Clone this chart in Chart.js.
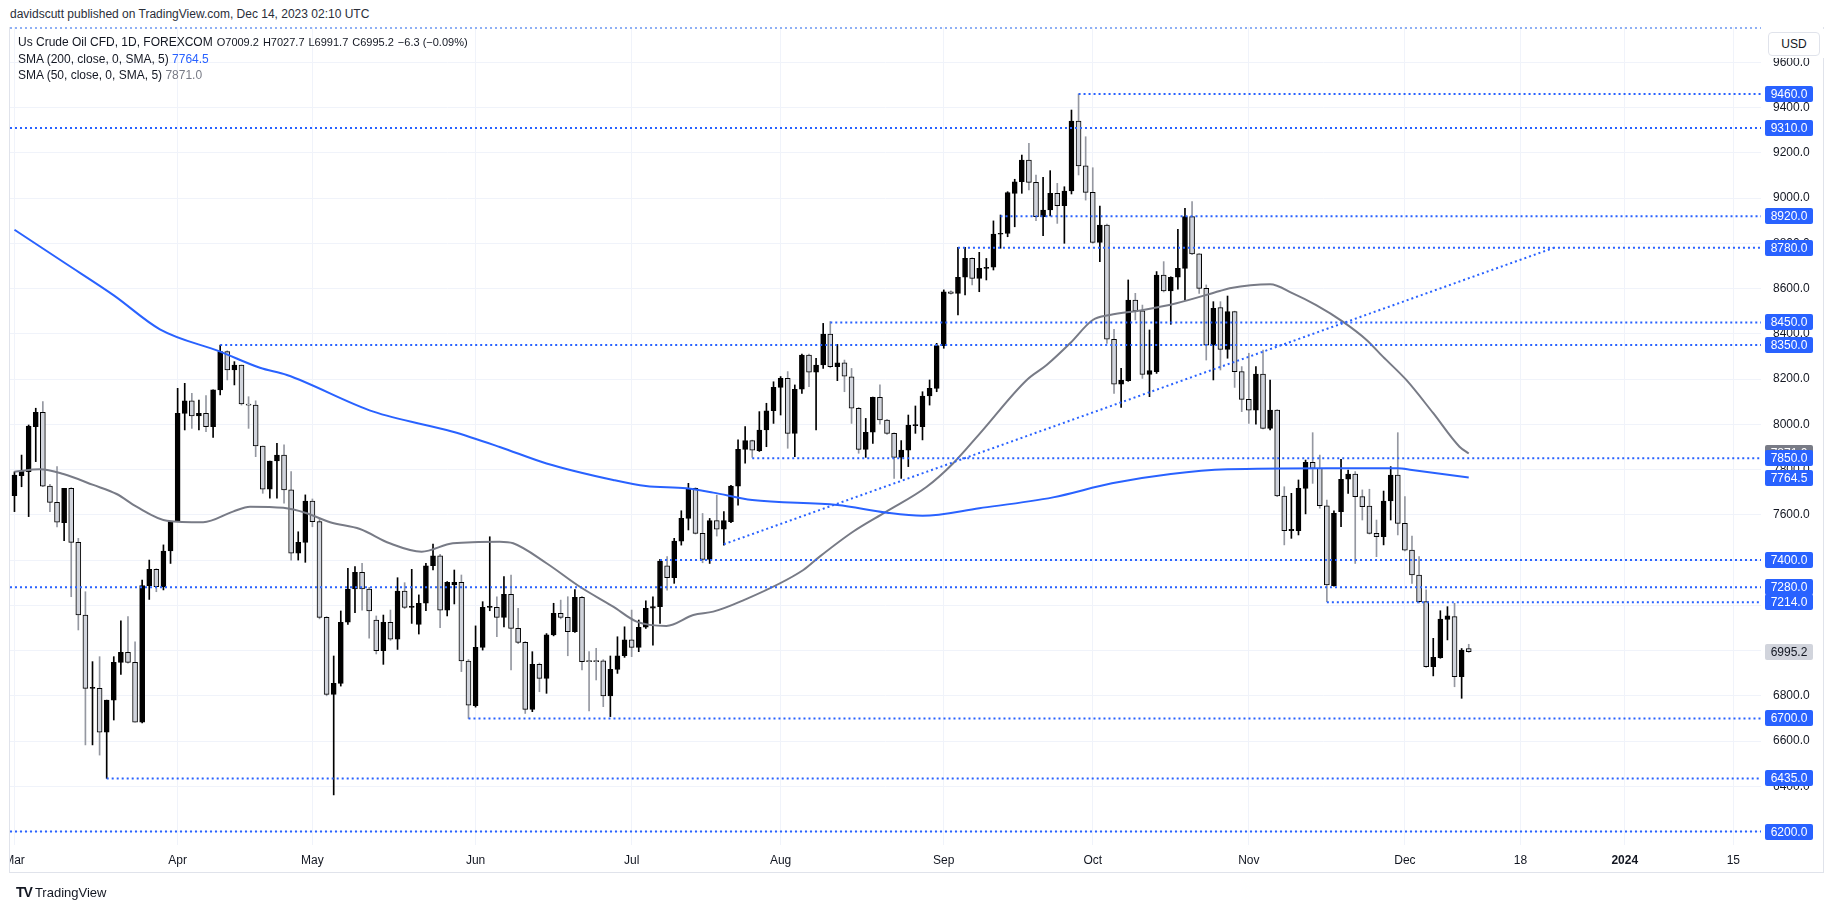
<!DOCTYPE html>
<html>
<head>
<meta charset="utf-8">
<script src="https://cdn.jsdelivr.net/npm/chart.js@4.4.1/dist/chart.umd.min.js"></script>
<style>
  body { margin: 0; width: 1835px; height: 909px; overflow: hidden; background: #fff;
         font-family: "Liberation Sans", Arial, sans-serif; color: #131722; }
  #head { position: absolute; left: 10px; top: 7px; font-size: 12px; color: #2a2e39; }
  #wrap { position: absolute; left: 0; top: 27px; width: 1835px; height: 846px; }
  #clip { position: absolute; left: 0; top: 846px; width: 9px; height: 30px; background: #fff; }
  #frame { position: absolute; left: 9px; top: 27px; width: 1815px; height: 846px;
           border: 1px solid #e0e3eb; border-top: none; box-sizing: border-box; }
  #legend { position: absolute; left: 18px; top: 34px; font-size: 12px; line-height: 16.5px; }
  #legend .v { font-size: 11px; margin-left: 4px; }
  #usdbg { position: absolute; left: 1764px; top: 29px; width: 60px; height: 29px; background: #fff; }
  #usd { position: absolute; left: 1768px; top: 32px; width: 52px; height: 24px; box-sizing: border-box;
         border: 1px solid #e0e3eb; border-radius: 4px; background: #fff; font-size: 12px;
         text-align: center; line-height: 22px; }
  #foot { position: absolute; left: 16px; top: 884px; font-size: 13px; color: #131722; }
  #foot b { font-size: 14px; letter-spacing: -1px; margin-right: 3px; }
</style>
</head>
<body>
<div id="head">davidscutt published on TradingView.com, Dec 14, 2023 02:10 UTC</div>
<div id="wrap"><canvas id="c"></canvas></div>
<div id="clip"></div>
<div id="frame"></div>
<div id="legend">
  <div>Us Crude Oil CFD, 1D, FOREXCOM<span class="v">O7009.2</span><span class="v">H7027.7</span><span class="v">L6991.7</span><span class="v">C6995.2</span><span class="v">−6.3 (−0.09%)</span></div>
  <div>SMA (200, close, 0, SMA, 5) <span style="color:#2962ff">7764.5</span></div>
  <div>SMA (50, close, 0, SMA, 5) <span style="color:#787b86">7871.0</span></div>
</div>
<div id="usdbg"></div>
<div id="usd">USD</div>
<div id="foot"><b>TV</b>TradingView</div>

<script>
// Daily bars, Mar 1 2023 (index 0) .. Dec 14 2023 (index 205)
const O = [7685,7773,7791,7990,8053,7727,7655,7565,7717,7478,
  7157,6833,6833,6639,6781,6948,6992,6948,6683,7287,
  7359,7282,7440,7570,8048,8104,8037,8048,7990,8152,
  8321,8240,8262,8088,8085,7904,7713,7838,7864,7710,
  7430,7478,7661,7570,7147,6806,6855,7125,7272,7346,
  7272,7135,6999,7125,7050,7263,7191,7116,7209,7375,
  7419,7179,7290,7301,6954,6756,7014,7191,7191,7147,
  7248,7098,7036,6740,6939,6877,7069,7164,7147,7083,
  7235,6955,6955,6955,6800,6917,6977,7047,7014,7103,
  7187,7194,7374,7322,7484,7584,7717,7518,7403,7574,
  7536,7570,7727,7889,7928,7884,7975,8060,8163,8203,
  7960,8155,8306,8230,8262,8399,8255,8272,8210,8071,
  7889,7965,8119,8019,7960,7854,7886,7994,7990,8125,
  8159,8348,8586,8579,8650,8734,8645,8689,8694,8840,
  8844,9021,9072,9168,9069,8918,8947,9021,8966,9031,
  9340,9142,9025,8804,8881,8376,8177,8193,8549,8501,
  8221,8233,8660,8589,8650,8689,8918,8753,8601,8350,
  8516,8331,8498,8233,8110,8063,8222,7982,8063,7683,
  7530,7530,7717,7832,7805,7640,7287,7614,7757,7780,
  7680,7639,7518,7503,7661,7776,7562,7444,7334,7216,
  6929,6969,7138,7150,6885,7009.2];
const H = [7790,7864,7997,8071,8100,7735,7813,7717,7720,7496,
  7260,6951,6973,6781,6973,7131,7150,7039,7312,7400,
  7362,7467,7570,8159,8181,8137,8107,8127,8152,8350,
  8325,8277,8262,8122,8104,7904,7838,7916,7909,7791,
  7525,7688,7670,7584,7150,6976,7175,7363,7371,7385,
  7280,7153,7157,7179,7322,7300,7359,7246,7385,7471,
  7425,7305,7356,7334,6960,7109,7216,7503,7238,7327,
  7334,7187,7040,6995,6945,7075,7209,7223,7238,7270,
  7240,6995,7010,6960,6976,7061,7105,7179,7135,7220,
  7238,7403,7415,7496,7618,7739,7720,7606,7584,7687,
  7614,7730,7931,7990,7930,8056,8093,8188,8211,8233,
  8174,8310,8310,8292,8446,8454,8353,8284,8247,8075,
  8026,8120,8174,8022,7962,7928,8041,8081,8144,8196,
  8358,8594,8590,8782,8782,8736,8760,8733,8899,8925,
  9028,9083,9190,9242,9102,9092,9121,9065,9050,9389,
  9460,9271,9134,8965,8885,8420,8247,8638,8579,8527,
  8417,8675,8719,8652,8862,8955,8984,8755,8616,8542,
  8542,8567,8500,8255,8314,8255,8328,8196,8065,7724,
  7695,7754,7842,7963,7864,7665,7618,7845,7798,7791,
  7710,7713,7577,7705,7813,7963,7680,7506,7415,7268,
  7054,7176,7194,7209,7009,7027.7];
const L = [7614,7724,7592,7835,7724,7614,7547,7486,7238,7091,
  6583,6583,6538,6435,6693,6895,6944,6683,6680,7226,
  7260,7268,7385,7570,7975,7982,7975,7967,7942,8130,
  8196,8174,8085,7982,7857,7695,7673,7673,7651,7400,
  7400,7390,7547,7140,6800,6362,6843,7115,7167,7179,
  7055,6985,6939,7045,7005,7185,7120,7073,7176,7356,
  7101,7153,7206,6907,6700,6750,7002,7176,7061,7105,
  6914,7030,6722,6730,6818,6811,7065,7140,6977,7080,
  6914,6733,6870,6752,6708,6899,6970,6973,6995,7098,
  7024,7120,7267,7297,7466,7533,7515,7388,7385,7506,
  7466,7565,7643,7828,7854,7880,7901,8004,8041,7894,
  7857,8137,8166,7975,8247,8250,8193,8144,8004,7872,
  7854,7916,8001,7955,7761,7761,7813,7960,7931,8085,
  8144,8336,8575,8483,8572,8616,8586,8638,8682,8778,
  8829,8873,9021,9036,8900,8834,8921,8888,8800,9018,
  9102,8991,8800,8719,8358,8137,8075,8190,8461,8203,
  8122,8225,8585,8442,8597,8549,8750,8579,8284,8196,
  8240,8292,8163,8056,8004,8001,7980,7975,7680,7467,
  7496,7511,7604,7739,7629,7216,7285,7548,7695,7385,
  7577,7515,7415,7467,7577,7511,7440,7297,7210,6925,
  6888,6966,7047,6840,6789,6991.7];
const C = [7776,7793,7992,8053,7727,7655,7567,7717,7478,7157,
  6833,6838,6639,6781,6948,6992,6948,6683,7287,7359,
  7282,7440,7570,8048,8104,8037,8048,7990,8152,8321,
  8240,8262,8090,8085,7904,7713,7838,7864,7710,7430,
  7478,7661,7570,7147,6806,6855,7125,7272,7346,7272,
  7175,6999,7125,7050,7263,7191,7195,7209,7375,7419,
  7179,7301,7301,6954,6759,7014,7191,7195,7147,7248,
  7098,7036,6740,6939,6877,7069,7164,7147,7083,7235,
  6951,6951,6951,6800,6917,6977,7047,7014,7103,7187,
  7194,7396,7322,7484,7584,7717,7518,7403,7574,7536,
  7574,7727,7889,7928,7886,7975,8060,8163,8203,7960,
  8155,8306,8230,8262,8399,8255,8272,8213,8071,7889,
  7965,8119,8019,7960,7854,7886,7997,7997,8125,8159,
  8348,8586,8579,8650,8734,8645,8689,8694,8841,8844,
  9024,9072,9168,9069,8918,8947,9021,8966,9031,9340,
  9142,9025,8804,8881,8376,8177,8196,8549,8501,8221,
  8237,8660,8589,8650,8689,8918,8753,8601,8350,8513,
  8331,8498,8233,8110,8063,8222,7982,8063,7683,7530,
  7536,7717,7832,7805,7640,7290,7606,7757,7780,7680,
  7636,7518,7503,7661,7776,7562,7444,7334,7216,6929,
  6970,7139,7153,6885,7002,6995.2];

// moving averages (bar index, value)
const sma200X = [0, 7, 14, 20.5, 29, 34.6, 38.4, 50.6, 61.8, 68.4, 75, 84.4, 89, 94.7, 98.5, 104, 116, 123, 128, 136, 146.4, 154.7, 163, 171, 185, 195, 197, 205];
const sma200Y = [8860, 8715, 8570, 8420, 8321, 8250, 8218, 8056, 7967, 7900, 7827, 7754, 7727, 7717, 7698, 7665, 7643, 7609, 7596, 7629, 7677, 7739, 7780, 7801, 7806, 7806, 7798, 7764.5];
const sma50X = [0, 3.6, 6.9, 11.1, 14.4, 17.2, 21.5, 26.6, 30.8, 33.2, 37.9, 41.2, 44.5, 48.7, 52.9, 57.4, 61.8, 68.4, 70.3, 75, 79.7, 84.4, 87.7, 91.9, 95.7, 98.5, 102.3, 111.2, 113.5, 118.2, 122.9, 128.6, 132.3, 136.1, 142.7, 145.5, 148.8, 152, 154.4, 159.1, 163.8, 169.9, 171.3, 177, 180.2, 183.5, 187.3, 190.6, 192.9, 196.2, 200, 203.7, 205];
const sma50Y = [7790, 7801, 7780, 7732, 7692, 7636, 7574, 7567, 7614, 7636, 7631, 7607, 7567, 7537, 7474, 7437, 7474, 7481, 7474, 7386, 7282, 7194, 7128, 7109, 7157, 7172, 7216, 7356, 7415, 7525, 7614, 7724, 7827, 7960, 8196, 8262, 8358, 8461, 8483, 8505, 8535, 8589, 8601, 8619, 8579, 8527, 8453, 8373, 8299, 8196, 8049, 7901, 7871];

// horizontal levels and the bar where each one starts (null = from the left edge)
const levelValues = [9460, 9310, 8920, 8780, 8450, 8350, 7850, 7400, 7280, 7214, 6700, 6435, 6200];
const levelStart  = [150, null, 139, 133, 115, 29, 104, 91, null, 185, 64, 13, null];
const topLevel = 9752;
const trendX = [100, 217];
const trendY = [7470, 8780];

const lastClose = 6995.2, sma200Last = 7764.5, sma50Last = 7871.0;

const xTickIdx = [0, 23, 42, 65, 87, 108, 131, 152, 174, 196, 212.3, 227, 242.3];
const xTickLabels = ['Mar', 'Apr', 'May', 'Jun', 'Jul', 'Aug', 'Sep', 'Oct', 'Nov', 'Dec', '18', '2024', '15'];
const yTicks = [6200, 6400, 6600, 6800, 7000, 7200, 7400, 7600, 7800, 8000, 8200, 8400, 8600, 8800, 9000, 9200, 9400, 9600];

const X_MIN = -0.63, X_MAX = 246.2;
const BLUE = '#2962ff';

const up = O.map((o, i) => C[i] >= o);

const datasets = [];
// bodies
datasets.push({
  type: 'bar', order: 3, grouped: false, barThickness: 5, minBarLength: 1,
  data: O.map((o, i) => ({ x: i, y: [o, C[i]] })),
  backgroundColor: up.map(u => u ? '#000000' : '#d1d4dc'),
  borderColor: '#000000', borderWidth: 1, borderSkipped: false
});
// wicks
datasets.push({
  type: 'bar', order: 4, grouped: false, barThickness: 1, minBarLength: 1,
  data: H.map((h, i) => ({ x: i, y: [L[i], h] })),
  backgroundColor: up.map(u => u ? '#000000' : '#9598a1'),
  borderWidth: 0
});
datasets.push({
  type: 'line', order: 2, data: sma200X.map((x, i) => ({ x, y: sma200Y[i] })),
  borderColor: BLUE, borderWidth: 2, pointRadius: 0, cubicInterpolationMode: 'monotone'
});
datasets.push({
  type: 'line', order: 2, data: sma50X.map((x, i) => ({ x, y: sma50Y[i] })),
  borderColor: '#787b86', borderWidth: 2, pointRadius: 0, cubicInterpolationMode: 'monotone'
});
levelValues.forEach((v, k) => {
  datasets.push({
    type: 'line', order: 1,
    data: [{ x: levelStart[k] === null ? X_MIN : levelStart[k], y: v }, { x: X_MAX, y: v }],
    borderColor: BLUE, borderWidth: 2, borderDash: [2, 3], pointRadius: 0
  });
});
datasets.push({
  type: 'line', order: 1, data: [{ x: X_MIN, y: topLevel }, { x: X_MAX, y: topLevel }],
  borderColor: '#8fb0f5', borderWidth: 2, borderDash: [2, 3], pointRadius: 0
});
datasets.push({
  type: 'line', order: 1, data: trendX.map((x, i) => ({ x, y: trendY[i] })),
  borderColor: BLUE, borderWidth: 2, borderDash: [2, 3], pointRadius: 0
});

function roundRect(c, x, y, w, h, r) {
  c.beginPath();
  c.moveTo(x + r, y); c.lineTo(x + w - r, y); c.quadraticCurveTo(x + w, y, x + w, y + r);
  c.lineTo(x + w, y + h - r); c.quadraticCurveTo(x + w, y + h, x + w - r, y + h);
  c.lineTo(x + r, y + h); c.quadraticCurveTo(x, y + h, x, y + h - r);
  c.lineTo(x, y + r); c.quadraticCurveTo(x, y, x + r, y); c.closePath();
}

// coloured price tags on the right scale
const priceTags = {
  id: 'priceTags',
  afterDraw(chart) {
    const ys = chart.scales.y, c = chart.ctx;
    const tags = [{ v: sma50Last, bg: '#787b86', fg: '#fff' }];
    levelValues.forEach(v => tags.push({ v, bg: BLUE, fg: '#fff' }));
    tags.push({ v: sma200Last, bg: BLUE, fg: '#fff' });
    tags.push({ v: lastClose, bg: '#d1d4dc', fg: '#131722' });
    c.save();
    c.font = '12px "Liberation Sans", Arial, sans-serif';
    c.textAlign = 'center';
    c.textBaseline = 'middle';
    tags.forEach(t => {
      const py = Math.round(ys.getPixelForValue(t.v));
      const x0 = ys.left + 4;
      c.fillStyle = t.bg;
      roundRect(c, x0, py - 8, 48, 16, 2);
      c.fill();
      c.fillStyle = t.fg;
      c.fillText(t.v.toFixed(1), x0 + 24, py + 1);
    });
    c.restore();
  }
};

new Chart(document.getElementById('c'), {
  type: 'bar',
  data: { datasets },
  plugins: [priceTags],
  options: {
    responsive: true, maintainAspectRatio: false, animation: false, events: [],
    layout: { padding: { left: 10, right: 11, top: 0, bottom: 0 } },
    plugins: { legend: { display: false }, tooltip: { enabled: false } },
    scales: {
      x: {
        type: 'linear', min: X_MIN, max: X_MAX, offset: false,
        grid: { color: '#f0f3fa', drawTicks: false, offset: false },
        border: { display: false },
        afterBuildTicks: s => { s.ticks = xTickIdx.map(v => ({ value: v })); },
        afterFit: s => { s.height = 28; s.paddingLeft = 0; s.paddingRight = 0; },
        ticks: {
          autoSkip: false, maxRotation: 0, padding: 8, color: '#131722',
          font: ctx => ({ family: '"Liberation Sans", Arial, sans-serif', size: 12,
                          weight: (ctx.tick && ctx.tick.value === 227) ? 'bold' : 'normal' }),
          callback: v => xTickLabels[xTickIdx.indexOf(v)]
        }
      },
      y: {
        position: 'right', min: 6140.6, max: 9756,
        grid: { color: '#f0f3fa', drawTicks: false },
        border: { display: false },
        afterBuildTicks: s => { s.ticks = yTicks.map(v => ({ value: v })); },
        afterFit: s => { s.width = 63; s.paddingTop = 0; s.paddingBottom = 0; },
        ticks: {
          padding: 12, color: '#131722',
          font: { family: '"Liberation Sans", Arial, sans-serif', size: 12 },
          callback: v => v.toFixed(1)
        }
      }
    }
  }
});
</script>
</body>
</html>
